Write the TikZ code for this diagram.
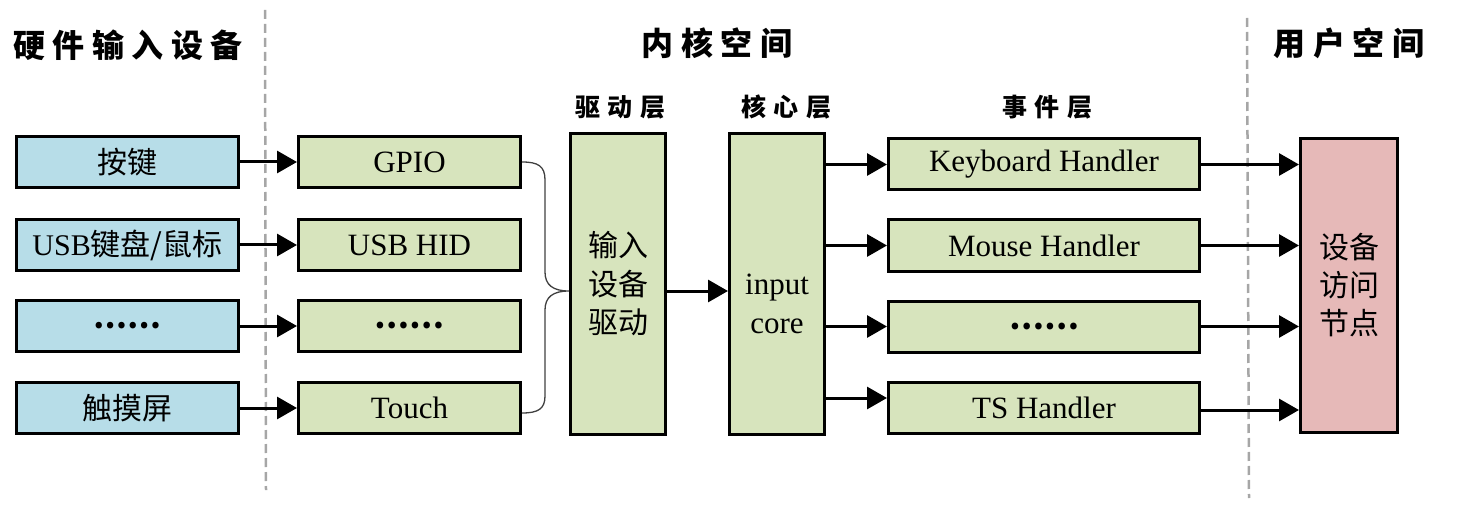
\documentclass[tikz,border=0pt]{standalone}
\usepackage{fontspec}
\setmainfont{Liberation Serif}
\newfontfamily\cjk{Noto Sans CJK SC}
\usetikzlibrary{arrows.meta}
\definecolor{bluef}{HTML}{B7DDE8}
\definecolor{greenf}{HTML}{D7E4BD}
\definecolor{pinkf}{HTML}{E6B9B8}
\definecolor{sepgray}{HTML}{A6A6A6}
\definecolor{bracegray}{HTML}{404040}
\newcommand\kk{\hspace{7.5pt}}
\newcommand\mydots{{\cjk\bfseries ……}}
\begin{document}
\begin{tikzpicture}[x=1pt,y=-1pt,
  box/.style={draw=black, line width=3pt, inner sep=0pt, minimum height=51pt},
  hwbox/.style={box, fill=bluef, minimum width=222pt, font=\cjk\fontsize{30}{36}\selectfont},
  drbox/.style={box, fill=greenf, minimum width=222pt, font=\fontsize{31}{37}\selectfont},
  tallbox/.style={box, fill=greenf, minimum width=95pt, minimum height=301pt},
  hdbox/.style={box, fill=greenf, minimum width=311pt, font=\fontsize{31}{37}\selectfont},
  userbox/.style={box, fill=pinkf, minimum width=97pt, minimum height=294pt},
  title/.style={inner sep=0pt, font=\cjk\bfseries\fontsize{32}{38}\selectfont},
  subtitle/.style={inner sep=0pt, font=\cjk\bfseries\fontsize{25}{30}\selectfont},
  arr/.style={line width=3pt, -{Triangle[length=20pt,width=22pt]}},
  sep/.style={draw=sepgray, line width=2.5pt, dash pattern=on 9pt off 5pt},
  brace/.style={draw=bracegray, line width=1.3pt}
]
\useasboundingbox (0,0) rectangle (1462,505);

% separators
\coordinate (s1a) at (265,10);
\coordinate (s1b) at (266,490);
\coordinate (s2a) at (1247,18);
\coordinate (s2b) at (1249,498);
\draw[sep] (s1a) -- (s1b);
\draw[sep] (s2a) -- (s2b);

% titles
\node[title] (t1) at (128,45) {硬\kk{}件\kk{}输\kk{}入\kk{}设\kk{}备};
\node[title] (t2) at (717,43) {内\kk{}核\kk{}空\kk{}间};
\node[title] (t3) at (1349,43) {用\kk{}户\kk{}空\kk{}间};
\node[subtitle] (st1) at (620,107) {驱\kk{}动\kk{}层};
\node[subtitle] (st2) at (786,107) {核\kk{}心\kk{}层};
\node[subtitle] (st3) at (1047,107) {事\kk{}件\kk{}层};

% hardware
\node[hwbox] (b1) at (127.5,162) {按键};
\node[hwbox] (b2) at (127.5,245) {{\fontspec{Liberation Serif}USB}键盘/鼠标};
\node[hwbox] (b3) at (127.5,326) {\mydots};
\node[hwbox] (b4) at (127.5,408) {触摸屏};

% drivers
\node[drbox] (g1) at (409.5,162) {GPIO};
\node[drbox] (g2) at (409.5,245) {USB HID};
\node[drbox] (g3) at (409.5,326) {\mydots};
\node[drbox] (g4) at (409.5,408) {Touch};

% driver layer and core
\node[tallbox, align=center, font=\cjk\fontsize{30}{38.5}\selectfont] (drv) at (618,284) {输入\\设备\\驱动};
\node[tallbox, label={[name=coretxt, yshift=-20pt, align=center, font=\fontsize{31}{38.5}\selectfont]center:input\\core}] (core) at (777,284) {};

% handlers
\node[hdbox] (h1) at (1044,164.5) {Keyboard Handler};
\node[hdbox] (h2) at (1044,245.5) {Mouse Handler};
\node[hdbox] (h3) at (1044,326.5) {\mydots};
\node[hdbox] (h4) at (1044,407.5) {TS Handler};

% user space
\node[userbox, align=center, font=\cjk\fontsize{30}{38}\selectfont] (usr) at (1349,285.5) {设备\\访问\\节点};

% arrows hardware -> drivers
\foreach \i in {1,2,3,4} \draw[arr] (b\i.east) -- (g\i.west);

% brace
\coordinate (m) at ([yshift=-7pt]drv.east);
\coordinate (bt) at (drv.west |- m);
\coordinate (bb) at ([yshift=-5pt]g4.east);
\draw[brace] (g1.east) .. controls (538,162) and (545,166) .. (545,180)
  -- (545,272) .. controls (545,285) and (553,291) .. (bt)
  .. controls (553,291) and (545,297) .. (545,310)
  -- (545,396) .. controls (545,409) and (538,413) .. (bb);

% driver -> core
\draw[arr] (m) -- (m -| core.west);

% core -> handlers
\coordinate (c1) at (h1.west);
\coordinate (c2) at (h2.west);
\coordinate (c3) at (h3.west);
\coordinate (c4) at ([yshift=9.5pt]h4.west);
\foreach \i in {1,2,3,4} \draw[arr] (c\i -| core.east) -- (c\i);

% handlers -> user space
\coordinate (u4) at ([yshift=-2.5pt]h4.east);
\foreach \i in {1,2,3} \draw[arr] (h\i.east) -- (h\i.east -| usr.west);
\draw[arr] (u4) -- (u4 -| usr.west);
\end{tikzpicture}
\end{document}
